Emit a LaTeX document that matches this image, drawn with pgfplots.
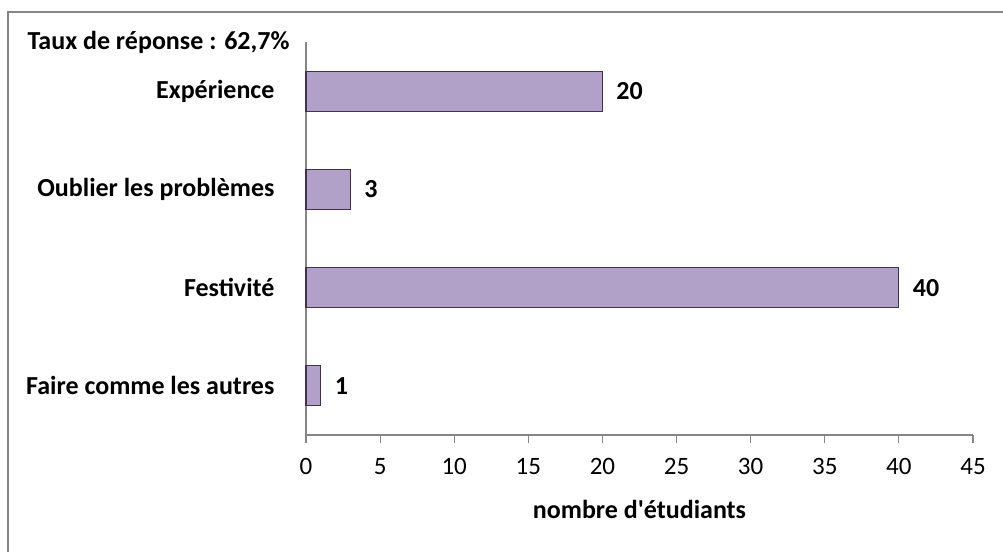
\documentclass[border=0pt]{standalone}
\usepackage{pgfplots}
\pgfplotsset{compat=1.18}
\usepackage{fontspec}
\setmainfont{Carlito}[Ligatures=TeXOff]
\definecolor{barfill}{HTML}{B1A0C7}
\definecolor{baredge}{HTML}{3F3151}
\definecolor{axisgray}{HTML}{868686}
\begin{document}
\begin{tikzpicture}
\useasboundingbox (-306pt,-117pt) rectangle (697pt,435pt);
\draw[axisgray, line width=1.2pt] (-298pt,-117pt) -- (-298pt,423pt) -- (697pt,423pt);
\begin{axis}[
  scale only axis,
  width=667pt, height=393pt,
  at={(0,0)}, anchor=south west,
  xbar, bar width=40pt,
  xmin=0, xmax=45,
  ymin=-0.5, ymax=3.5,
  xtick={0,5,...,45},
  ytick={0,1,2,3},
  yticklabels={Faire comme les autres,Festivité,Oublier les problèmes,Expérience},
  axis x line*=bottom,
  axis y line*=left,
  axis line style={axisgray, line width=1.2pt},
  x axis line style={-},
  y axis line style={-},
  xtick style={axisgray, line width=1.2pt},
  xtick align=outside,
  major tick length=8pt,
  ytick style={draw=none},
  yticklabel style={font=\fontsize{26}{30}\selectfont\bfseries},
  xticklabel style={font=\fontsize{25}{30}\selectfont},
  /pgf/number format/assume math mode=true,
  y tick label style={xshift=-20pt},
  xticklabel style={yshift=-12pt},
  xlabel={nombre d'étudiants},
  xlabel style={font=\fontsize{26}{30}\selectfont\bfseries, yshift=-18pt},
  nodes near coords,
  nodes near coords style={font=\fontsize{26}{30}\selectfont\bfseries, anchor=west, xshift=10pt},
  clip=false,
]
\addplot[fill=barfill, draw=baredge, line width=1.2pt] coordinates {(1,0) (40,1) (3,2) (20,3)};
\end{axis}
\node[anchor=east, font=\fontsize{26}{30}\selectfont\bfseries] at (-13pt,393pt) {Taux de réponse : 62,7\%};
\end{tikzpicture}
\end{document}
